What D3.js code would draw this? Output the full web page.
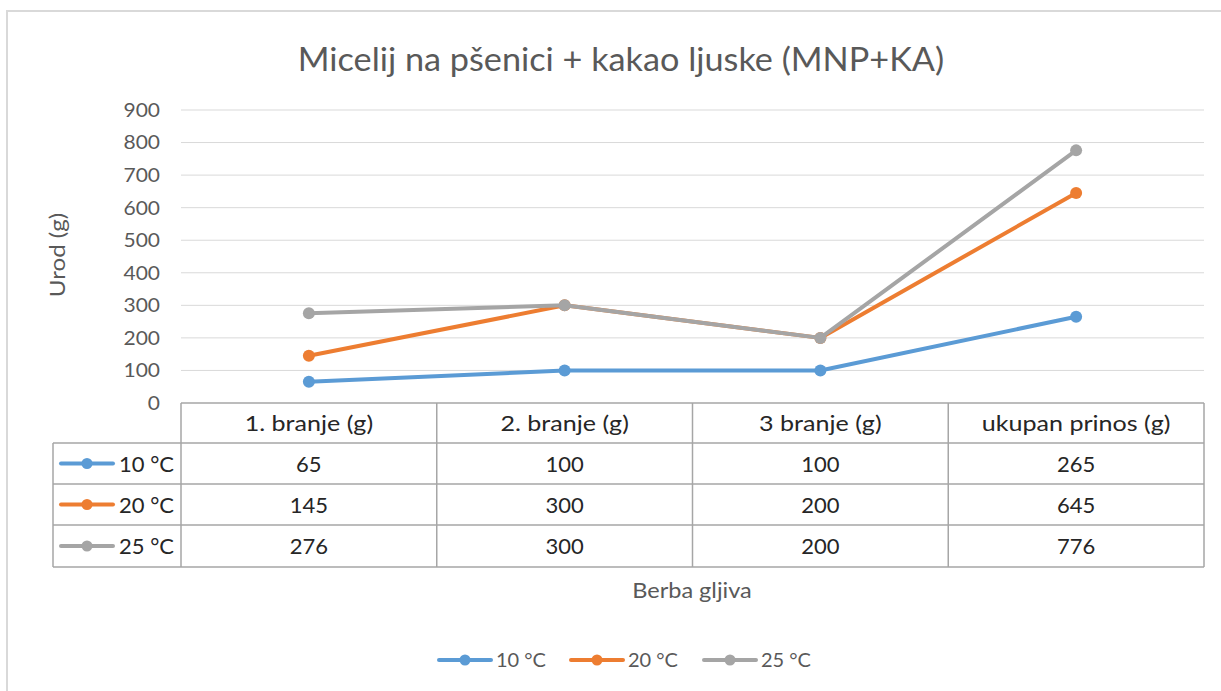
<!DOCTYPE html>
<meta charset="utf-8">
<body style="margin:0;background:#fff">
	<div id="chart"></div>
</body>
<script src="https://cdn.jsdelivr.net/npm/d3@7"></script>
<script>
	const categories = ["1. branje (g)", "2. branje (g)", "3 branje (g)", "ukupan prinos (g)"];
	const seriesNames = ["10 °C", "20 °C", "25 °C"];
	const values10 = [65, 100, 100, 265];
	const values20 = [145, 300, 200, 645];
	const values25 = [276, 300, 200, 776];
	const yTicks = [0, 100, 200, 300, 400, 500, 600, 700, 800, 900];
	const colors = ["#5b9bd5", "#ed7d31", "#a5a5a5"];

	const width = 1221, height = 691,
	    font = "Lato, 'Open Sans', sans-serif";

	const series = seriesNames.map((name, i) => ({
	    name: name,
	    color: colors[i],
	    values: [values10, values20, values25][i]
	}));

	const svg = d3.select("#chart").append("svg")
	    .attr("width", width)
	    .attr("height", height)
	    .style("font-family", font);

	// widen text a bit, the original font is wider than Lato
	function stretch(sel, k) {
	    sel.each(function() {
	        const w = this.getComputedTextLength();
	        d3.select(this).attr("textLength", w * k).attr("lengthAdjust", "spacingAndGlyphs");
	    });
	}

	// outer chart frame (cut off at right and bottom)
	svg.append("rect")
	    .attr("x", 7).attr("y", 11)
	    .attr("width", 1230).attr("height", 700)
	    .style("fill", "none")
	    .style("stroke", "#d9d9d9")
	    .style("stroke-width", 2);

	const x = d3.scaleBand().domain(categories).range([181, 1204]).padding(0);
	const y = d3.scaleLinear().domain([0, 900]).range([403, 110]);
	const cx = d => x(d) + x.bandwidth() / 2;

	svg.append("text")
	    .attr("x", 621).attr("y", 71)
	    .attr("text-anchor", "middle")
	    .style("fill", "#595959")
	    .style("font-size", "32px")
	    .text("Micelij na pšenici + kakao ljuske (MNP+KA)")
	    .call(stretch, 1.07);

	// grid
	svg.append("g").selectAll("line")
	    .data(yTicks.filter(d => d > 0))
	    .enter().append("line")
	    .attr("x1", 181).attr("x2", 1204)
	    .attr("y1", d => y(d)).attr("y2", d => y(d))
	    .style("stroke", "#d9d9d9")
	    .style("stroke-width", 1);

	// y axis labels
	const yAxis = svg.append("g")
	    .attr("transform", "translate(160,0)")
	    .call(d3.axisLeft(y).tickValues(yTicks).tickSize(0).tickPadding(0));
	yAxis.select(".domain").remove();
	yAxis.selectAll("text")
	    .style("font-family", font)
	    .style("font-size", "20px")
	    .style("fill", "#595959")
	    .call(stretch, 1.05);

	svg.append("text")
	    .attr("transform", "translate(65,255) rotate(-90)")
	    .attr("text-anchor", "middle")
	    .style("fill", "#595959")
	    .style("font-size", "21px")
	    .text("Urod (g)")
	    .call(stretch, 1.15);

	// lines
	const line = d3.line()
	    .x((d, i) => cx(categories[i]))
	    .y(d => y(d));

	const sg = svg.append("g").selectAll("g")
	    .data(series)
	    .enter().append("g");
	sg.append("path")
	    .attr("d", d => line(d.values))
	    .style("fill", "none")
	    .style("stroke", d => d.color)
	    .style("stroke-width", 4)
	    .style("stroke-linejoin", "round");
	sg.selectAll("circle")
	    .data(d => d.values.map((v, i) => ({ v: v, c: categories[i], color: d.color })))
	    .enter().append("circle")
	    .attr("cx", d => cx(d.c))
	    .attr("cy", d => y(d.v))
	    .attr("r", 6)
	    .style("fill", d => d.color);

	// data table
	const rowTop = [403, 443, 484, 525, 567];
	const table = svg.append("g")
	    .style("fill", "none")
	    .style("stroke", "#a6a6a6")
	    .style("stroke-width", 1.5);
	table.append("line").attr("x1", 181).attr("x2", 1204).attr("y1", rowTop[0]).attr("y2", rowTop[0]);
	rowTop.slice(1).forEach(r => {
	    table.append("line").attr("x1", 53).attr("x2", 1204).attr("y1", r).attr("y2", r);
	});
	table.append("line").attr("x1", 53).attr("x2", 53).attr("y1", rowTop[1]).attr("y2", rowTop[4]);
	categories.forEach(c => {
	    table.append("line").attr("x1", x(c)).attr("x2", x(c)).attr("y1", rowTop[0]).attr("y2", rowTop[4]);
	});
	table.append("line").attr("x1", 1204).attr("x2", 1204).attr("y1", rowTop[0]).attr("y2", rowTop[4]);

	svg.append("g").selectAll("text")
	    .data(categories)
	    .enter().append("text")
	    .attr("x", d => cx(d))
	    .attr("y", (rowTop[0] + rowTop[1]) / 2 + 8)
	    .attr("text-anchor", "middle")
	    .style("fill", "#262626")
	    .style("font-size", "22px")
	    .text(d => d)
	    .call(stretch, 1.14);

	series.forEach((s, i) => {
	    const mid = (rowTop[i + 1] + rowTop[i + 2]) / 2;
	    const row = svg.append("g");
	    row.append("line")
	        .attr("x1", 61).attr("x2", 113)
	        .attr("y1", mid).attr("y2", mid)
	        .style("stroke", s.color)
	        .style("stroke-width", 4)
	        .style("stroke-linecap", "round");
	    row.append("circle")
	        .attr("cx", 87).attr("cy", mid).attr("r", 5.5)
	        .style("fill", s.color);
	    row.append("text")
	        .attr("x", 119).attr("y", mid + 8)
	        .style("fill", "#262626")
	        .style("font-size", "22px")
	        .text(s.name);
	    row.selectAll(".val")
	        .data(s.values)
	        .enter().append("text")
	        .attr("x", (d, j) => cx(categories[j]))
	        .attr("y", mid + 8)
	        .attr("text-anchor", "middle")
	        .style("fill", "#262626")
	        .style("font-size", "22px")
	        .text(d => d);
	});

	svg.append("text")
	    .attr("x", 692).attr("y", 598)
	    .attr("text-anchor", "middle")
	    .style("fill", "#595959")
	    .style("font-size", "21px")
	    .text("Berba gljiva")
	    .call(stretch, 1.12);

	// legend
	const legendX = [437, 569, 702];
	series.forEach((s, i) => {
	    const lg = svg.append("g").attr("transform", "translate(" + legendX[i] + ",660)");
	    lg.append("line")
	        .attr("x1", 2).attr("x2", 54)
	        .style("stroke", s.color)
	        .style("stroke-width", 4)
	        .style("stroke-linecap", "round");
	    lg.append("circle").attr("cx", 28).attr("r", 5.5).style("fill", s.color);
	    lg.append("text")
	        .attr("x", 59).attr("y", 7)
	        .style("fill", "#595959")
	        .style("font-size", "20px")
	        .text(s.name);
	});
</script>
